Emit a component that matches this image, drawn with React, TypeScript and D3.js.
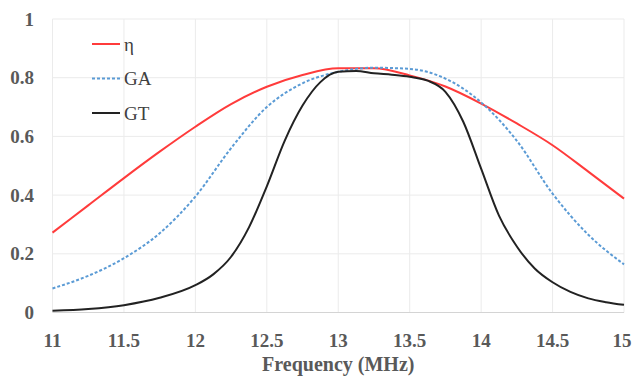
import React from "react";
import * as d3 from "d3";

const xTicks = [11, 11.5, 12, 12.5, 13, 13.5, 14, 14.5, 15];
const yTicks = [0, 0.2, 0.4, 0.6, 0.8, 1];
const yTickLabels = ["0", "0.2", "0.4", "0.6", "0.8", "1"];

const etaFreq = [11, 11.25, 11.5, 11.75, 12, 12.25, 12.5, 12.75, 13, 13.25, 13.5, 13.75, 14, 14.25, 14.5, 14.75, 15];
const etaVal = [0.272, 0.365, 0.458, 0.548, 0.633, 0.71, 0.769, 0.809, 0.832, 0.832, 0.808, 0.77, 0.712, 0.644, 0.57, 0.48, 0.388];

const gaFreq = [11, 11.25, 11.5, 11.75, 12, 12.25, 12.5, 12.75, 13, 13.25, 13.5, 13.75, 14, 14.25, 14.5, 14.75, 15];
const gaVal = [0.082, 0.125, 0.185, 0.27, 0.395, 0.56, 0.7, 0.781, 0.82, 0.834, 0.83, 0.797, 0.716, 0.585, 0.405, 0.265, 0.164];

const gtFreq = [11, 11.25, 11.5, 11.75, 12, 12.125, 12.25, 12.375, 12.5, 12.625, 12.75, 12.875, 13, 13.125, 13.25, 13.375, 13.5, 13.625, 13.75, 13.875, 14, 14.125, 14.25, 14.375, 14.5, 14.625, 14.75, 14.875, 15];
const gtVal = [0.006, 0.012, 0.025, 0.05, 0.093, 0.13, 0.19, 0.29, 0.43, 0.585, 0.705, 0.785, 0.82, 0.823, 0.815, 0.81, 0.803, 0.79, 0.752, 0.65, 0.49, 0.33, 0.225, 0.15, 0.103, 0.07, 0.048, 0.035, 0.026];

const legendLabels = ["η", "GA", "GT"];

const W = 635;
const H = 380;
const left = 52.5;
const right = 624;
const top = 19;
const bottom = 312.5;
const FONT = "'Liberation Serif', 'Times New Roman', 'Liberation Sans', Arial, sans-serif";

export default function App() {
  const x = d3.scaleLinear().domain([11, 15]).range([left, right]);
  const y = d3.scaleLinear().domain([0, 1]).range([bottom, top]);
  const line = (fs: number[], vs: number[]) =>
    d3
      .line<number>()
      .x((_, i) => x(fs[i]))
      .y((v) => y(v))
      .curve(d3.curveMonotoneX)(vs) as string;

  const series = [
    { d: line(etaFreq, etaVal), color: "#ff3b3b", dash: undefined as string | undefined },
    { d: line(gaFreq, gaVal), color: "#5b9bd5", dash: "3,2" },
    { d: line(gtFreq, gtVal), color: "#222222", dash: undefined },
  ];

  return (
    <svg
      width={W}
      height={H}
      style={{ position: "absolute", left: 0, top: 0, background: "#fff" }}
    >
      {xTicks.map((t) => (
        <line key={"gx" + t} x1={x(t)} x2={x(t)} y1={top} y2={bottom} stroke="#ebebeb" strokeWidth={1} />
      ))}
      {yTicks.map((t) => (
        <line key={"gy" + t} x1={left} x2={right} y1={y(t)} y2={y(t)} stroke={t === 0 ? "#d4d4d4" : "#ebebeb"} strokeWidth={1} />
      ))}
      {series.map((s, i) => (
        <path key={i} d={s.d} fill="none" stroke={s.color} strokeWidth={2} strokeDasharray={s.dash} />
      ))}
      {yTicks.map((t, i) => (
        <text key={"ty" + t} x={34} y={y(t)} dy="0.35em" textAnchor="end" style={{ fontFamily: FONT, fontSize: 19, fontWeight: "bold" }} fill="#595959">
          {yTickLabels[i]}
        </text>
      ))}
      {xTicks.map((t) => (
        <text key={"tx" + t} x={Math.min(x(t), 622)} y={346.5} textAnchor="middle" style={{ fontFamily: FONT, fontSize: 19, fontWeight: "bold" }} fill="#595959">
          {String(t)}
        </text>
      ))}
      <text x={(left + right) / 2} y={370.5} textAnchor="middle" style={{ fontFamily: FONT, fontSize: 20, fontWeight: "bold" }} fill="#595959">
        Frequency (MHz)
      </text>
      {legendLabels.map((l, i) => (
        <g key={l} transform={`translate(92, ${44 + i * 34.5})`}>
          <line x1={0} x2={28} y1={0} y2={0} stroke={series[i].color} strokeWidth={2} strokeDasharray={series[i].dash} />
          <text x={32} y={0} dy="0.35em" style={{ fontFamily: FONT, fontSize: 19 }} fill="#404040">
            {l}
          </text>
        </g>
      ))}
    </svg>
  );
}
